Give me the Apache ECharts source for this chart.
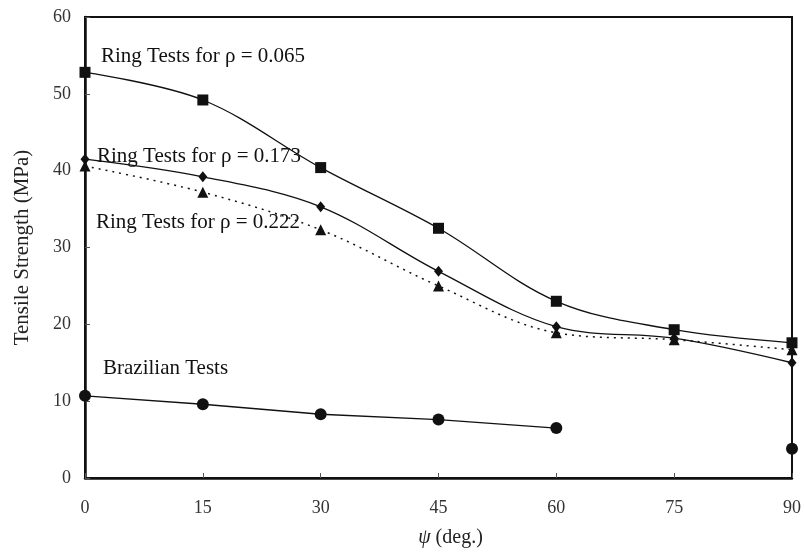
<!DOCTYPE html>
<html><head><meta charset="utf-8">
<script src="https://cdn.jsdelivr.net/npm/echarts@6/dist/echarts.min.js"></script>
<style>html,body{margin:0;padding:0;background:#fff}#c{width:804px;height:553px}</style>
</head><body><div id="c"></div>
<script>
const angles = [0, 15, 30, 45, 60, 75, 90];
const ring065 = [52.8, 49.2, 40.4, 32.5, 23.0, 19.3, 17.6];
const ring173 = [41.5, 39.2, 35.3, 26.9, 19.7, 18.2, 15.0];
const ring222 = [40.6, 37.2, 32.3, 25.0, 18.9, 18.0, 16.7];
const brazilian = [10.7, 9.6, 8.3, 7.6, 6.5, null, 3.8];
const xTicks = [0, 15, 30, 45, 60, 75, 90];
const yTicks = [0, 10, 20, 30, 40, 50, 60];

const pairs = arr => angles.map((a, i) => [a, arr[i]]);
const font = '"Liberation Serif", "DejaVu Serif", serif';
const chart = echarts.init(document.getElementById('c'));
const lineBase = {type: 'line', smooth: 0.35, connectNulls: false, lineStyle: {color: '#111', width: 1.3}, itemStyle: {color: '#111'}, z: 3};
const txt = (x, y, s) => ({type: 'text', x: x, y: y, style: {text: s, fill: '#111', font: '21px ' + font, verticalAlign: 'middle', align: 'left'}});
chart.setOption({
  animation: false,
  backgroundColor: '#fff',
  grid: {left: 85, right: 12, top: 17, bottom: 72, show: true, borderColor: '#111', borderWidth: 2, backgroundColor: 'transparent'},
  xAxis: {type: 'value', min: 0, max: 90, interval: 15,
    axisLine: {lineStyle: {color: '#111', width: 2.5}},
    axisTick: {inside: true, length: 5, lineStyle: {color: '#555'}},
    splitLine: {show: false},
    axisLabel: {color: '#333', fontFamily: font, fontSize: 18, margin: 21, formatter: v => xTicks.includes(v) ? String(v) : ''},
    name: '{i|ψ} (deg.)', nameLocation: 'middle', nameGap: 50,
    nameTextStyle: {color: '#222', fontFamily: font, fontSize: 20, padding: [0, 0, 0, 24],
      rich: {i: {fontStyle: 'italic', fontFamily: font, fontSize: 20, color: '#222'}}}
  },
  yAxis: {type: 'value', min: 0, max: 60, interval: 10,
    axisLine: {lineStyle: {color: '#111', width: 2.5}},
    axisTick: {inside: true, length: 5, lineStyle: {color: '#555'}},
    splitLine: {show: false},
    axisLabel: {color: '#333', fontFamily: font, fontSize: 18, margin: 14, formatter: v => yTicks.includes(v) ? String(v) : ''},
    name: 'Tensile Strength (MPa)', nameLocation: 'middle', nameGap: 52,
    nameTextStyle: {color: '#222', fontFamily: font, fontSize: 21}
  },
  series: [
    Object.assign({}, lineBase, {name: 'ρ = 0.065', data: pairs(ring065), symbol: 'rect', symbolSize: 11}),
    Object.assign({}, lineBase, {name: 'ρ = 0.173', data: pairs(ring173), symbol: 'diamond', symbolSize: [9, 11]}),
    Object.assign({}, lineBase, {name: 'ρ = 0.222', data: pairs(ring222), symbol: 'triangle', symbolSize: 11,
      lineStyle: {color: '#111', width: 1.5, type: [2, 5]}}),
    Object.assign({}, lineBase, {name: 'Brazilian', smooth: false, data: pairs(brazilian), symbol: 'circle', symbolSize: 12})
  ],
  graphic: [
    txt(101, 56, 'Ring Tests for ρ = 0.065'),
    txt(97, 156, 'Ring Tests for ρ = 0.173'),
    txt(96, 222, 'Ring Tests for ρ = 0.222'),
    txt(103, 368, 'Brazilian Tests')
  ]
});
</script></body></html>
